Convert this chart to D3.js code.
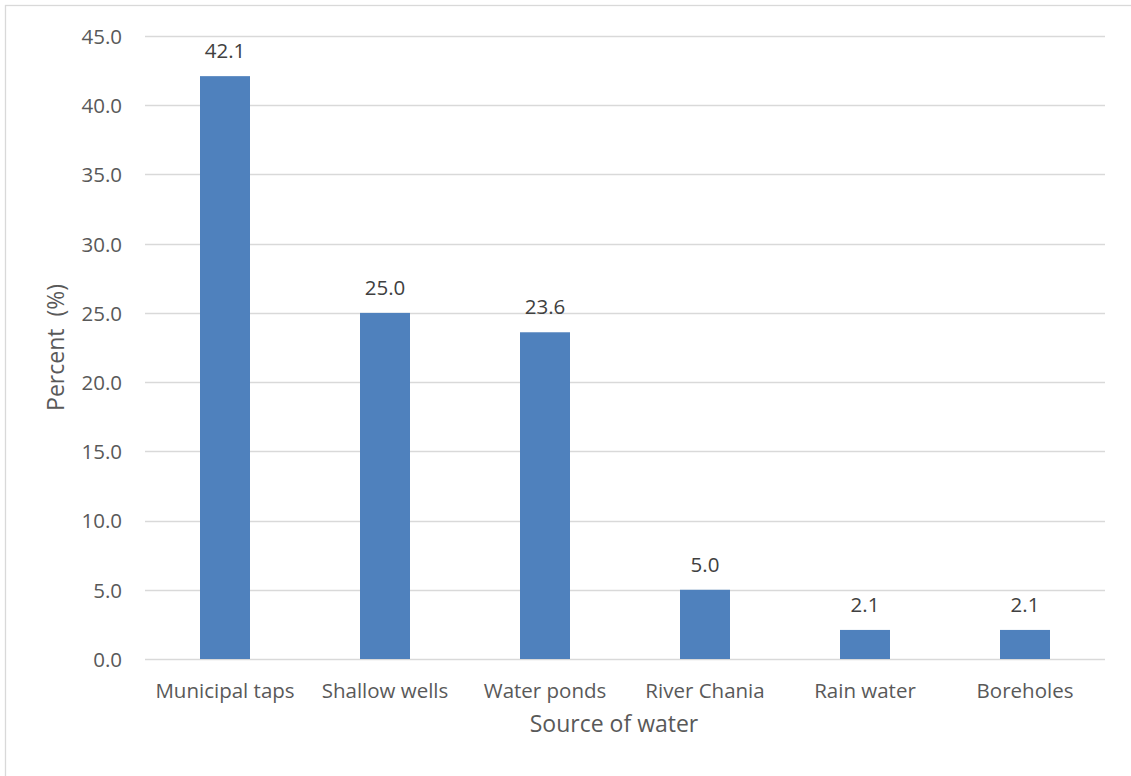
<!DOCTYPE html>
<html>
<head>
<meta charset="utf-8">
<script src="https://cdn.jsdelivr.net/npm/d3@7"></script>
<style>
  html, body { margin: 0; padding: 0; background: #fff; }
  svg { display: block; }
  text { font-family: "Open Sans", "Liberation Sans", sans-serif; }
</style>
</head>
<body>
<svg id="chart" width="1131" height="776"></svg>
<script>
// Source of water, share of households (%)
const categories = ["Municipal taps", "Shallow wells", "Water ponds", "River Chania", "Rain water", "Boreholes"];
const percents = [42.1, 25.0, 23.6, 5.0, 2.1, 2.1];
const yTicks = [0, 5, 10, 15, 20, 25, 30, 35, 40, 45];

const W = 1131, H = 776;
const margin = { left: 145, right: 26, top: 36, bottom: 117 };
const FONT = "'Open Sans', 'Liberation Sans', sans-serif";
const svg = d3.select("#chart");

// chart frame
svg.append("rect")
  .attr("x", 5.5).attr("y", 5.5)
  .attr("width", W + 10).attr("height", H + 10)
  .attr("fill", "#fff").attr("stroke", "#d9d9d9").attr("stroke-width", 1.3);

const x = d3.scaleBand()
  .domain(categories)
  .range([margin.left, W - margin.right])
  .paddingInner(0.6875).paddingOuter(0.34375);

const y = d3.scaleLinear()
  .domain([0, 45])
  .range([H - margin.bottom, margin.top]);

// horizontal gridlines
svg.append("g")
  .selectAll("line")
  .data(yTicks)
  .join("line")
  .attr("x1", margin.left).attr("x2", W - margin.right)
  .attr("y1", d => Math.round(y(d)) + 0.5).attr("y2", d => Math.round(y(d)) + 0.5)
  .attr("stroke", "#d9d9d9").attr("stroke-width", 1.3);

// y-axis tick labels
const yAxis = d3.axisLeft(y).tickValues(yTicks).tickFormat(d3.format(".1f")).tickSize(0).tickPadding(23);
const gy = svg.append("g").attr("transform", `translate(${margin.left},0)`).call(yAxis);
gy.select(".domain").remove();
gy.selectAll("text").attr("font-size", 20.5).attr("fill", "#595959")
  .attr("dy", "0.36em")
  .style("font-family", FONT);

// bars
svg.append("g")
  .selectAll("rect")
  .data(percents)
  .join("rect")
  .attr("x", (d, i) => x(categories[i]))
  .attr("y", d => y(d))
  .attr("width", x.bandwidth())
  .attr("height", d => y(0) - y(d))
  .attr("fill", "#4f81bd");

// value labels
svg.append("g")
  .selectAll("text")
  .data(percents)
  .join("text")
  .attr("x", (d, i) => x(categories[i]) + x.bandwidth() / 2)
  .attr("y", d => y(d) - 18)
  .attr("text-anchor", "middle")
  .attr("font-size", 20.5)
  .attr("fill", "#404040")
  .style("font-family", FONT)
  .text(d => d3.format(".1f")(d));

// x-axis category labels
const xAxis = d3.axisBottom(x).tickSize(0);
const gx = svg.append("g").attr("transform", `translate(0,${H - margin.bottom})`).call(xAxis);
gx.select(".domain").remove();
gx.selectAll("text").attr("font-size", 20.5).attr("fill", "#595959")
  .attr("y", 39).attr("dy", 0)
  .style("font-family", FONT);

// axis titles
svg.append("text")
  .attr("x", 614)
  .attr("y", 732)
  .attr("text-anchor", "middle")
  .attr("font-size", 23)
  .attr("fill", "#595959")
  .style("font-family", FONT)
  .text("Source of water");

svg.append("text")
  .attr("transform", `translate(64,${(margin.top + H - margin.bottom) / 2}) rotate(-90)`)
  .attr("text-anchor", "middle")
  .attr("font-size", 23)
  .attr("fill", "#595959")
  .attr("xml:space", "preserve")
  .style("white-space", "pre")
  .style("font-family", FONT)
  .text("Percent  (%)");
</script>
</body>
</html>
